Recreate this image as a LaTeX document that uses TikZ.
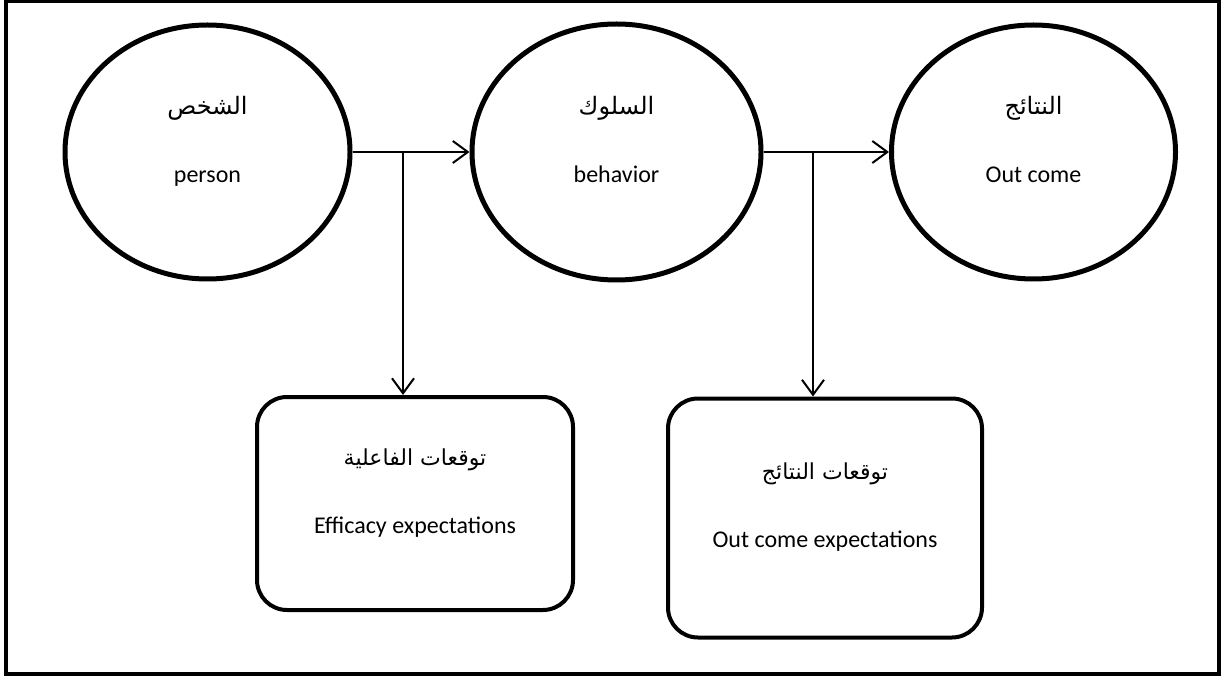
\documentclass[tikz,border=0pt]{standalone}
\usepackage{fontspec}
\setmainfont{Carlito}
\newfontfamily\arabicfont[Script=Arabic]{DejaVu Sans}
\TeXXeTstate=1
\usetikzlibrary{arrows.meta, shapes.geometric}
\newcommand{\artxt}[2][22]{{\arabicfont\fontsize{#1}{#1}\selectfont\beginR #2\endR}}
\def\linegap{41pt}

\begin{document}
\begin{tikzpicture}[x=1pt, y=-1pt,
  phase/.style={ellipse, draw, line width=5pt, inner sep=0pt, align=center,
    text depth=25pt, font=\fontsize{24}{27}\selectfont},
  expbox/.style={rectangle, rounded corners=30pt, draw, line width=4pt,
    inner sep=0pt, align=center, text depth=25pt, font=\fontsize{24}{27}\selectfont},
  link/.style={line width=2pt, -{Straight Barb[length=15pt, width=22pt]}}]
  \useasboundingbox (0,0) rectangle (1221,676);
  \draw[line width=4pt] (6,1) rectangle (1219,674);

  % the three stages
  \node[phase, minimum width=285pt, minimum height=254pt] (person) at (207.5,152)
    {\artxt[24]{الشخص}\\[\linegap]person};
  \node[phase, minimum width=289pt, minimum height=256pt] (behavior) at (616.5,152)
    {\artxt[24]{السلوك}\\[\linegap]behavior};
  \node[phase, minimum width=284pt, minimum height=254pt] (outcome) at (1033.5,152)
    {\artxt[24]{النتائج}\\[\linegap]Out come};

  % the two expectations
  \node[expbox, minimum width=316pt, minimum height=213pt] (effexp) at (415,503.5)
    {\artxt{توقعات الفاعلية}\\[\linegap]Efficacy expectations};
  \node[expbox, minimum width=314pt, minimum height=239pt] (outexp) at (825,518)
    {\artxt{توقعات النتائج}\\[\linegap]Out come expectations};

  \coordinate (split1) at (403,152);
  \coordinate (split2) at (813,152);

  \draw[link] (person.east) -- (behavior.west);
  \draw[link] (behavior.east) -- (outcome.west);
  \draw[link] (split1) -- (split1 |- effexp.north);
  \draw[link] (split2) -- (split2 |- outexp.north);
\end{tikzpicture}
\end{document}
